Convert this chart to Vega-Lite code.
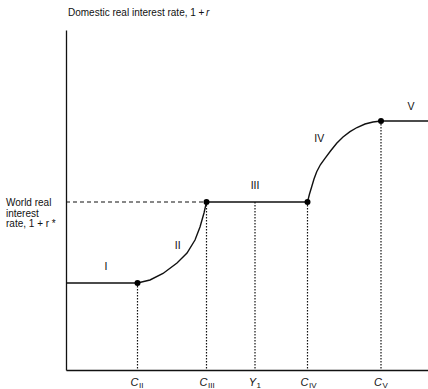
{
  "$schema": "https://vega.github.io/schema/vega-lite/v6.json",
  "width": 362,
  "height": 340,
  "autosize": {"type": "none"},
  "padding": {"left": 66, "top": 30, "right": 0, "bottom": 19},
  "background": "white",
  "config": {"view": {"stroke": null}, "font": "Liberation Sans"},
  "datasets": {
    "curve": [
      {"o": 1, "x": 0, "y": 87},
      {"o": 2, "x": 71.5, "y": 87},
      {"o": 3, "x": 84, "y": 90},
      {"o": 4, "x": 97, "y": 96.5},
      {"o": 5, "x": 111, "y": 107},
      {"o": 6, "x": 121, "y": 117},
      {"o": 7, "x": 129, "y": 130},
      {"o": 8, "x": 134, "y": 143},
      {"o": 9, "x": 138, "y": 157},
      {"o": 10, "x": 140.5, "y": 168},
      {"o": 11, "x": 241.5, "y": 168},
      {"o": 12, "x": 243.5, "y": 176},
      {"o": 13, "x": 245.7, "y": 183.3},
      {"o": 14, "x": 248, "y": 191},
      {"o": 15, "x": 250.7, "y": 198.3},
      {"o": 16, "x": 254.5, "y": 205.5},
      {"o": 17, "x": 259, "y": 211.7},
      {"o": 18, "x": 264.5, "y": 219},
      {"o": 19, "x": 270.7, "y": 226.7},
      {"o": 20, "x": 277, "y": 233},
      {"o": 21, "x": 284, "y": 238.3},
      {"o": 22, "x": 291, "y": 242.5},
      {"o": 23, "x": 299, "y": 246},
      {"o": 24, "x": 307, "y": 248},
      {"o": 25, "x": 315, "y": 249},
      {"o": 26, "x": 362, "y": 249}
    ],
    "points": [
      {"x": 71.5, "y": 87},
      {"x": 140.5, "y": 168},
      {"x": 241.5, "y": 168},
      {"x": 315, "y": 249}
    ],
    "vlines": [
      {"x": 71.5, "y": 87},
      {"x": 140.5, "y": 168},
      {"x": 189, "y": 168},
      {"x": 241.5, "y": 168},
      {"x": 315, "y": 249}
    ],
    "hline": [{"x": 0, "x2": 140.5, "y": 168}],
    "regions": [
      {"x": 40, "y": 103, "t": "I"},
      {"x": 111.7, "y": 124.3, "t": "II"},
      {"x": 189, "y": 184.3, "t": "III"},
      {"x": 253.3, "y": 230.7, "t": "IV"},
      {"x": 345, "y": 263, "t": "V"}
    ],
    "xlabels": [
      {"x": 71.5, "y": -13, "main": "C", "sub": "II"},
      {"x": 140.5, "y": -13, "main": "C", "sub": "III"},
      {"x": 189, "y": -13, "main": "Y", "sub": "1"},
      {"x": 241.5, "y": -13, "main": "C", "sub": "IV"},
      {"x": 315, "y": -13, "main": "C", "sub": "V"}
    ],
    "notes": [
      {"x": 2, "y": 357, "t": "Domestic real interest rate, 1 +"},
      {"x": -60, "y": 167, "t": "World real\ninterest\nrate, 1 + r *"}
    ],
    "italic": [
      {"x": 140, "y": 357, "t": "r"}
    ]
  },
  "layer": [
    {
      "data": {"name": "hline"},
      "mark": {"type": "rule", "color": "#111", "strokeWidth": 1.2, "strokeDash": [4, 3]},
      "encoding": {
        "x": {"field": "x", "type": "quantitative", "scale": {"domain": [0, 362], "nice": false, "zero": false},
              "axis": {"domain": true, "domainColor": "#111", "domainWidth": 1.3, "ticks": false, "labels": false, "grid": false, "title": null}},
        "x2": {"field": "x2"},
        "y": {"field": "y", "type": "quantitative", "scale": {"domain": [0, 340], "nice": false, "zero": false},
              "axis": {"domain": true, "domainColor": "#111", "domainWidth": 1.3, "ticks": false, "labels": false, "grid": false, "title": null}}
      }
    },
    {
      "data": {"name": "vlines"},
      "mark": {"type": "rule", "color": "#111", "strokeWidth": 1.2, "strokeDash": [1.5, 1.5]},
      "encoding": {
        "x": {"field": "x", "type": "quantitative"},
        "y": {"field": "y", "type": "quantitative"},
        "y2": {"datum": 0}
      }
    },
    {
      "data": {"name": "curve"},
      "mark": {"type": "line", "color": "#111", "strokeWidth": 1.4},
      "encoding": {
        "x": {"field": "x", "type": "quantitative"},
        "y": {"field": "y", "type": "quantitative"},
        "order": {"field": "o"}
      }
    },
    {
      "data": {"name": "points"},
      "mark": {"type": "point", "filled": true, "color": "#000", "size": 36, "opacity": 1},
      "encoding": {
        "x": {"field": "x", "type": "quantitative"},
        "y": {"field": "y", "type": "quantitative"}
      }
    },
    {
      "data": {"name": "regions"},
      "mark": {"type": "text", "fontSize": 10.5, "color": "#111", "align": "center", "baseline": "middle"},
      "encoding": {
        "x": {"field": "x", "type": "quantitative"},
        "y": {"field": "y", "type": "quantitative"},
        "text": {"field": "t"}
      }
    },
    {
      "data": {"name": "xlabels"},
      "mark": {"type": "text", "fontSize": 11, "fontStyle": "italic", "color": "#111", "align": "right", "baseline": "middle", "dx": 1},
      "encoding": {
        "x": {"field": "x", "type": "quantitative"},
        "y": {"field": "y", "type": "quantitative"},
        "text": {"field": "main"}
      }
    },
    {
      "data": {"name": "xlabels"},
      "mark": {"type": "text", "fontSize": 8, "color": "#111", "align": "left", "baseline": "middle", "dx": 1.5, "dy": 3},
      "encoding": {
        "x": {"field": "x", "type": "quantitative"},
        "y": {"field": "y", "type": "quantitative"},
        "text": {"field": "sub"}
      }
    },
    {
      "data": {"name": "notes"},
      "mark": {"type": "text", "fontSize": 10, "color": "#111", "align": "left", "baseline": "middle", "lineBreak": "\n", "lineHeight": 10.5},
      "encoding": {
        "x": {"field": "x", "type": "quantitative"},
        "y": {"field": "y", "type": "quantitative"},
        "text": {"field": "t"}
      }
    },
    {
      "data": {"name": "italic"},
      "mark": {"type": "text", "fontSize": 10, "fontStyle": "italic", "color": "#111", "align": "left", "baseline": "middle"},
      "encoding": {
        "x": {"field": "x", "type": "quantitative"},
        "y": {"field": "y", "type": "quantitative"},
        "text": {"field": "t"}
      }
    }
  ]
}
